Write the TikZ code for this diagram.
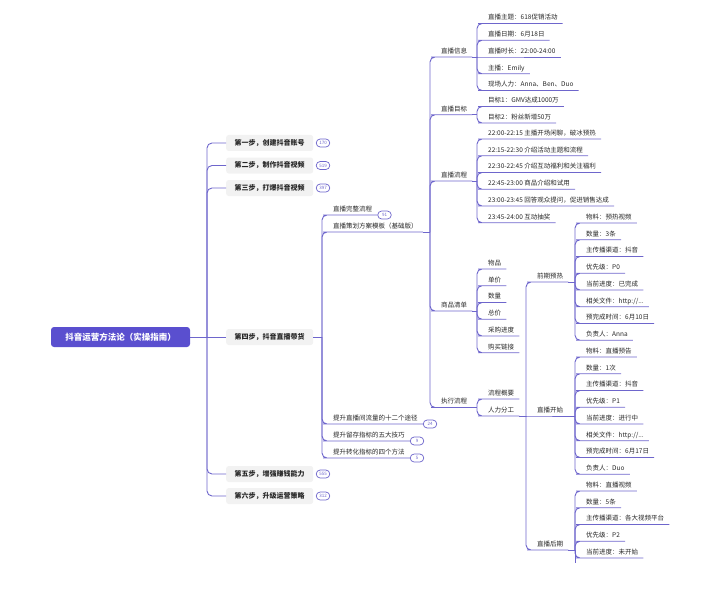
\documentclass[tikz,border=0pt]{standalone}
\usepackage{fontspec}
\setmainfont{Noto Sans CJK SC}
\definecolor{ln}{HTML}{6E66CC}
\definecolor{rootc}{HTML}{5A4FCF}
\definecolor{boxc}{HTML}{F2F2F2}
\definecolor{txt}{HTML}{262626}
\newcommand\fsA{\fontsize{6.5pt}{7pt}\selectfont}
\newcommand\fsB{\fontsize{7pt}{8pt}\selectfont\bfseries}
\newcommand\fsR{\fontsize{8.5pt}{10pt}\selectfont\bfseries}
\newcommand\fsN{\fontsize{4.5pt}{4.5pt}\selectfont}
\tikzset{
  conn/.style={draw=ln, line width=0.9pt, rounded corners=5pt},
  rootbox/.style={fill=rootc, text=white, rounded corners=3pt, minimum width=139pt, minimum height=20pt, font=\fsR, inner sep=0pt},
  stepbox/.style={fill=boxc, text=txt, rounded corners=2.5pt, minimum width=87pt, minimum height=16pt, font=\fsB, anchor=west, inner sep=0pt},
  badge/.style={draw=ln, fill=white, line width=0.7pt, rounded corners=3.9pt, minimum width=13.5pt, minimum height=8pt, inner sep=0pt, font=\fsN, text=ln},
  ulnode/.style={anchor=south west, inner xsep=5pt, inner ysep=2.5pt, text height=5.3pt, text depth=1pt, font=\fsA, text=txt}
}
\newcommand\kid[4]{\node[ulnode] (#2) at #3 {#4};
  \draw[conn] (#1) |- (#2.south west) -- (#2.south east);}
\newcommand\kidS[4]{\node[ulnode] (#2) at #3 {#4};
  \draw[conn] (#1) -- (#2.south west) -- (#2.south east);}
\begin{document}
\begin{tikzpicture}[x=1pt,y=-1pt]
\useasboundingbox (0,0) rectangle (720,615);
% junction coordinates
\coordinate (jR) at (207,337);
\coordinate (j4) at (322,337);
\coordinate (jPlan) at (430,232);
\coordinate (jInfo) at (477,57);
\coordinate (jGoal) at (477,114.75);
\coordinate (jFlow) at (477,181);
\coordinate (jGoods) at (477,311);
\coordinate (jExec) at (477,407.5);
\coordinate (jHR) at (526,416);
\coordinate (jPre) at (575,282);
\coordinate (jStart) at (575,416);
\coordinate (jPost) at (575,550);
\coordinate (cut) at (575,563);

% root and steps
\node[rootbox] (root) at (120.5,337) {抖音运营方法论（实操指南）};
\node[stepbox] (s1) at (226,143) {第一步，创建抖音账号};
\node[stepbox] (s2) at (226,165.5) {第二步，制作抖音视频};
\node[stepbox] (s3) at (226,188) {第三步，打爆抖音视频};
\node[stepbox] (s4) at (226,337) {第四步，抖音直播带货};
\node[stepbox] (s5) at (226,474) {第五步，增强赚钱能力};
\node[stepbox] (s6) at (226,496) {第六步，升级运营策略};
\draw[conn] (root.east) -- (s4.west);
\foreach \s in {s1,s2,s3,s5,s6}{\draw[conn] (jR) |- (\s.west);}
\node[badge] (b1) at (323,143) {170};
\node[badge] (b2) at (323,165.5) {519};
\node[badge] (b3) at (323,188) {397};
\node[badge] (b5) at (323,474) {555};
\node[badge] (b6) at (323,496) {312};

% step 4 children
\draw[conn] (s4.east) -- (j4);
\kid{j4}{flowall}{(328,215)}{直播完整流程}
\kid{j4}{plan}{(328,232)}{直播策划方案模板（基础版）}
\kid{j4}{t24}{(328,424)}{提升直播间流量的十二个途径}
\kid{j4}{t9}{(328,441)}{提升留存指标的五大技巧}
\kid{j4}{t5}{(328,458)}{提升转化指标的四个方法}
\node[badge,anchor=west] (bf) at (flowall.south east) {91};
\node[badge,anchor=west] (bt24) at (t24.south east) {24};
\node[badge,anchor=west] (bt9) at (t9.south east) {9};
\node[badge,anchor=west] (bt5) at (t5.south east) {5};

% plan children
\draw[conn] (plan.south east) -- (jPlan);
\kid{jPlan}{info}{(436,57)}{直播信息}
\kid{jPlan}{goal}{(436,114.75)}{直播目标}
\kid{jPlan}{flow}{(436,181)}{直播流程}
\kid{jPlan}{goods}{(436,311)}{商品清单}
\kid{jPlan}{exec}{(436,407.5)}{执行流程}

% info
\draw[conn] (info.south east) -- (jInfo);
\kid{jInfo}{i1}{(483,23.5)}{直播主题：618促销活动}
\kid{jInfo}{i2}{(483,40.25)}{直播日期：6月18日}
\kidS{jInfo}{i3}{(483,57)}{直播时长：22:00-24:00}
\kid{jInfo}{i4}{(483,73.75)}{主播：Emily}
\kid{jInfo}{i5}{(483,90.5)}{现场人力：Anna、Ben、Duo}

% goal
\draw[conn] (goal.south east) -- (jGoal);
\kid{jGoal}{g1}{(483,106.5)}{目标1：GMV达成1000万}
\kid{jGoal}{g2}{(483,123)}{目标2：粉丝新增50万}

% flow
\draw[conn] (flow.south east) -- (jFlow);
\kid{jFlow}{f1}{(483,139)}{22:00-22:15 主播开场闲聊，破冰预热}
\kid{jFlow}{f2}{(483,155.75)}{22:15-22:30 介绍活动主题和流程}
\kid{jFlow}{f3}{(483,172.5)}{22:30-22:45 介绍互动福利和关注福利}
\kid{jFlow}{f4}{(483,189.25)}{22:45-23:00 商品介绍和试用}
\kid{jFlow}{f5}{(483,206)}{23:00-23:45 回答观众提问，促进销售达成}
\kid{jFlow}{f6}{(483,222.75)}{23:45-24:00 互动抽奖}

% goods
\draw[conn] (goods.south east) -- (jGoods);
\kid{jGoods}{d1}{(483,269)}{物品}
\kid{jGoods}{d2}{(483,285.75)}{单价}
\kid{jGoods}{d3}{(483,302.5)}{数量}
\kid{jGoods}{d4}{(483,319.25)}{总价}
\kid{jGoods}{d5}{(483,336)}{采购进度}
\kid{jGoods}{d6}{(483,352.75)}{购买链接}

% exec
\draw[conn] (exec.south east) -- (jExec);
\kid{jExec}{e1}{(483,399)}{流程概要}
\kid{jExec}{hr}{(483,416)}{人力分工}

% manpower
\draw[conn] (hr.south east) -- (jHR);
\kid{jHR}{pre}{(532,282)}{前期预热}
\kidS{jHR}{start}{(532,416)}{直播开始}
\kid{jHR}{post}{(532,550)}{直播后期}

% pre
\draw[conn] (pre.south east) -- (jPre);
\kid{jPre}{p1}{(581,223)}{物料：预热视频}
\kid{jPre}{p2}{(581,239.75)}{数量：3条}
\kid{jPre}{p3}{(581,256.5)}{主传播渠道：抖音}
\kid{jPre}{p4}{(581,273.25)}{优先级：P0}
\kid{jPre}{p5}{(581,290)}{当前进度：已完成}
\kid{jPre}{p6}{(581,306.75)}{相关文件：http://...}
\kid{jPre}{p7}{(581,323.5)}{预完成时间：6月10日}
\kid{jPre}{p8}{(581,340.25)}{负责人：Anna}

% start
\draw[conn] (start.south east) -- (jStart);
\kid{jStart}{q1}{(581,357)}{物料：直播预告}
\kid{jStart}{q2}{(581,373.75)}{数量：1次}
\kid{jStart}{q3}{(581,390.5)}{主传播渠道：抖音}
\kid{jStart}{q4}{(581,407.25)}{优先级：P1}
\kid{jStart}{q5}{(581,424)}{当前进度：进行中}
\kid{jStart}{q6}{(581,440.75)}{相关文件：http://...}
\kid{jStart}{q7}{(581,457.5)}{预完成时间：6月17日}
\kid{jStart}{q8}{(581,474.25)}{负责人：Duo}

% post
\draw[conn] (post.south east) -- (jPost);
\kid{jPost}{r1}{(581,491)}{物料：直播视频}
\kid{jPost}{r2}{(581,507.75)}{数量：5条}
\kid{jPost}{r3}{(581,524.5)}{主传播渠道：各大视频平台}
\kid{jPost}{r4}{(581,541.25)}{优先级：P2}
\kid{jPost}{r5}{(581,558)}{当前进度：未开始}
\draw[conn] (jPost) -- (cut);
\end{tikzpicture}
\end{document}
